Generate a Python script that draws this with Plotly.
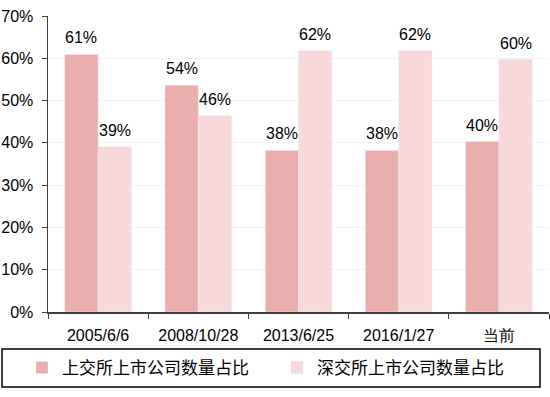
import plotly.graph_objects as go

categories = ["2005/6/6", "2008/10/28", "2013/6/25", "2016/1/27", "当前"]
sse_share = [60.9, 53.6, 38.2, 38.2, 40.3]
szse_share = [39.1, 46.4, 61.8, 61.8, 59.7]
label_sse = ["61%", "54%", "38%", "38%", "40%"]
label_szse = ["39%", "46%", "62%", "62%", "60%"]
name_sse = "上交所上市公司数量占比"
name_szse = "深交所上市公司数量占比"

NUM_FONT = "Liberation Sans, Arial"

fig = go.Figure()
fig.add_trace(go.Bar(x=categories, y=sse_share, name=name_sse, marker_color="#E9ADAC"))
fig.add_trace(go.Bar(x=categories, y=szse_share, name=name_szse, marker_color="#F7D9D9"))

annotations = []
for c, v, t in zip(categories, sse_share, label_sse):
    annotations.append(dict(x=c, y=v, text=t, showarrow=False, xshift=-16.7, yshift=6,
                            yanchor="bottom", font=dict(family=NUM_FONT, size=16, color="#000")))
for c, v, t in zip(categories, szse_share, label_szse):
    annotations.append(dict(x=c, y=v, text=t, showarrow=False, xshift=16.7, yshift=6,
                            yanchor="bottom", font=dict(family=NUM_FONT, size=16, color="#000")))

fig.update_layout(
    width=550, height=397,
    margin=dict(l=48, r=1, t=16, b=85, autoexpand=False),
    plot_bgcolor="white", paper_bgcolor="white",
    barmode="group", bargap=0.335, bargroupgap=0,
    font=dict(family=NUM_FONT, size=16, color="#000"),
    showlegend=True,
    hovermode=False,
    annotations=annotations,
    legend=dict(orientation="h", x=(22 - 48) / 501, xref="paper",
                y=(312 - 368) / 296, yanchor="middle", xanchor="left",
                entrywidth=210, entrywidthmode="pixels",
                font=dict(family="Noto Sans CJK SC", size=17, color="#000"),
                borderwidth=0, bgcolor="rgba(0,0,0,0)"),
    shapes=[dict(type="rect", xref="paper", yref="paper",
                 x0=(2 - 48) / 501, x1=(540 - 48) / 501,
                 y0=(312 - 387) / 296, y1=(312 - 349) / 296,
                 line=dict(color="#000", width=1.5), fillcolor="rgba(0,0,0,0)")],
)
fig.update_xaxes(showline=True, linecolor="#404040", linewidth=1.5,
                 ticks="outside", tickson="boundaries", ticklen=5, tickcolor="#404040",
                 ticklabelstandoff=8,
                 tickfont=dict(family=NUM_FONT, size=16))
fig.update_yaxes(range=[0, 70], dtick=10, ticksuffix="%", showline=True,
                 linecolor="#404040", linewidth=1.5, ticks="outside", ticklen=5,
                 tickcolor="#404040", gridcolor="#F2F2F2", gridwidth=1, zeroline=False,
                 ticklabelstandoff=5,
                 tickfont=dict(family=NUM_FONT, size=16))

fig.write_html("out.html", config={"displayModeBar": False, "staticPlot": True},
               post_script="document.body.style.margin='0';")
